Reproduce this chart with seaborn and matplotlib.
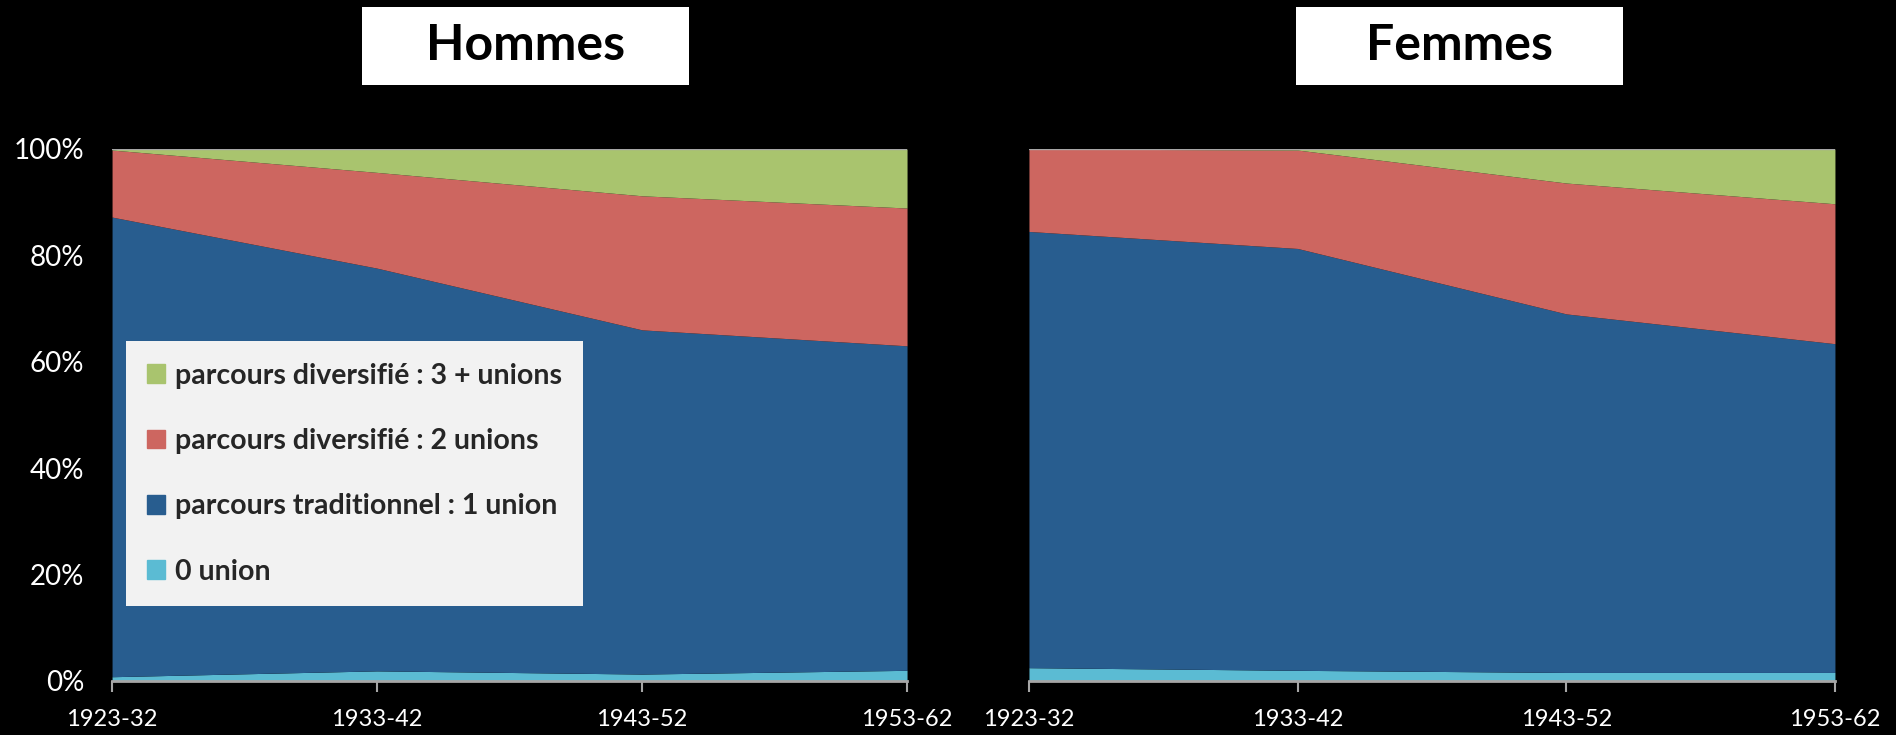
import matplotlib
matplotlib.use("Agg")
import matplotlib.pyplot as plt
import seaborn as sns
from matplotlib.patches import Rectangle, Patch

# cohorts and shares (%)
cohortes = ["1923-32", "1933-42", "1943-52", "1953-62"]
series = ["0 union", "parcours traditionnel : 1 union",
          "parcours diversifié : 2 unions", "parcours diversifié : 3 + unions"]

h_zero = [0.8, 1.9, 1.3, 2.0]
h_une = [86.4, 75.7, 64.7, 61.0]
h_deux = [12.6, 18.0, 25.2, 25.9]
h_trois = [0.2, 4.4, 8.8, 11.1]

f_zero = [2.5, 2.0, 1.6, 1.6]
f_une = [82.0, 79.3, 67.4, 61.8]
f_deux = [15.5, 18.5, 24.6, 26.3]
f_trois = [0.0, 0.2, 6.4, 10.3]

colors = ["#5BBBD3", "#285D8F", "#CD6660", "#A9C46E"]

sns.set_theme(style="dark")
plt.rcParams["font.family"] = ["Lato", "DejaVu Sans"]

fig = plt.figure(figsize=(18.96, 7.35), dpi=100, facecolor="black")
ax1 = fig.add_axes([0.0591, 0.0735, 0.4193, 0.7238])
ax2 = fig.add_axes([0.5427, 0.0735, 0.4251, 0.7238])

x = list(range(len(cohortes)))
for ax, data in [(ax1, [h_zero, h_une, h_deux, h_trois]),
                 (ax2, [f_zero, f_une, f_deux, f_trois])]:
    ax.set_facecolor("black")
    ax.stackplot(x, *data, colors=colors, labels=series, linewidth=0)
    ax.set_xlim(0, 3)
    ax.set_ylim(0, 100)
    ax.grid(False)
    for s in ["left", "right", "top"]:
        ax.spines[s].set_visible(False)
    ax.spines["bottom"].set_color("#A6A6A6")
    ax.spines["bottom"].set_linewidth(2)
    ax.axhline(100, color="#A6A6A6", linewidth=1)
    ax.set_xticks(x)
    ax.set_xticklabels(cohortes, color="white", fontsize=17)
    ax.tick_params(axis="x", bottom=True, length=8, width=1.5, color="#A6A6A6", pad=12)

ax1.set_yticks([0, 20, 40, 60, 80, 100])
ax1.set_yticklabels(["0%", "20%", "40%", "60%", "80%", "100%"], color="white", fontsize=20)
ax1.tick_params(axis="y", left=False, pad=14)
ax2.set_yticks([])

handles = [Patch(color=c) for c in colors][::-1]
leg = ax1.legend(handles, series[::-1], loc="lower left", bbox_to_anchor=(0.0176, 0.141),
                 frameon=True, fancybox=False, facecolor="#F2F2F2", edgecolor="none",
                 framealpha=1, borderaxespad=0, prop={"weight": "bold", "size": 20.5},
                 handlelength=0.62, handleheight=0.62, handletextpad=0.35,
                 labelspacing=1.38, borderpad=0.75)

# title boxes
for x0, title in [(362, "Hommes"), (1296, "Femmes")]:
    fig.patches.append(Rectangle((x0 / 1896, 1 - 85 / 735), 327 / 1896, 78 / 735,
                                 transform=fig.transFigure, facecolor="white",
                                 edgecolor="none"))
    fig.text((x0 + 163.5) / 1896, 1 - 46 / 735, title, ha="center", va="center",
             fontsize=36, fontweight="bold", color="black")

fig.savefig("out.png", dpi=100, facecolor="black")
